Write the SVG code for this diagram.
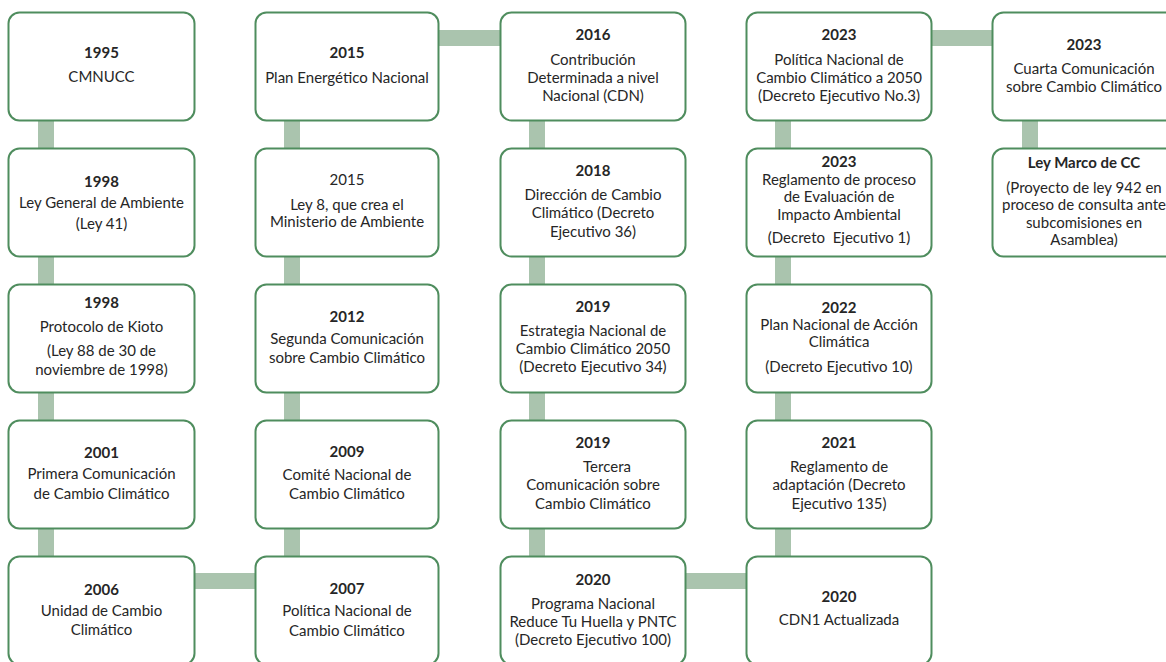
<svg xmlns="http://www.w3.org/2000/svg" width="1166" height="662" viewBox="0 0 1166 662">
<style>
.box{fill:#ffffff;stroke:#4f8d5e;stroke-width:2}
.con{fill:#aac4ae}
text{font-family:Lato,"Liberation Sans",sans-serif;font-size:15px;fill:#262626;text-anchor:middle}
.y{font-weight:bold}
</style>
<rect width="1166" height="662" fill="#ffffff"/>
<g id="connectors">
<rect class="con" x="38" y="120" width="16" height="30"/>
<rect class="con" x="38" y="256" width="16" height="30"/>
<rect class="con" x="38" y="392" width="16" height="30"/>
<rect class="con" x="38" y="528" width="16" height="30"/>
<rect class="con" x="284" y="120" width="16" height="30"/>
<rect class="con" x="284" y="256" width="16" height="30"/>
<rect class="con" x="284" y="392" width="16" height="30"/>
<rect class="con" x="284" y="528" width="16" height="30"/>
<rect class="con" x="529" y="120" width="16" height="30"/>
<rect class="con" x="529" y="256" width="16" height="30"/>
<rect class="con" x="529" y="392" width="16" height="30"/>
<rect class="con" x="529" y="528" width="16" height="30"/>
<rect class="con" x="775" y="120" width="16" height="30"/>
<rect class="con" x="775" y="256" width="16" height="30"/>
<rect class="con" x="775" y="392" width="16" height="30"/>
<rect class="con" x="775" y="528" width="16" height="30"/>
<rect class="con" x="1022" y="120" width="16" height="30"/>
<rect class="con" x="438" y="30" width="64" height="16"/>
<rect class="con" x="930" y="30" width="64" height="16"/>
<rect class="con" x="193" y="573" width="64" height="16"/>
<rect class="con" x="684" y="573" width="64" height="16"/>
</g>
<g id="n1995"><rect class="box" x="8.5" y="12.5" width="186" height="108" rx="11"/>
<text class="y" x="101.5" y="58">1995</text><text x="101.5" y="82">CMNUCC</text></g>
<g id="n1998a"><rect class="box" x="8.5" y="148.5" width="186" height="108" rx="11"/>
<text class="y" x="101.5" y="187">1998</text><text x="101.5" y="208">Ley General de Ambiente</text><text x="101.5" y="229">(Ley 41)</text></g>
<g id="n1998b"><rect class="box" x="8.5" y="284.5" width="186" height="108" rx="11"/>
<text class="y" x="101.5" y="308">1998</text><text x="101.5" y="332">Protocolo de Kioto</text><text x="101.5" y="356">(Ley 88 de 30 de</text><text x="101.5" y="375">noviembre de 1998)</text></g>
<g id="n2001"><rect class="box" x="8.5" y="420.5" width="186" height="108" rx="11"/>
<text class="y" x="101.5" y="458">2001</text><text x="101.5" y="479">Primera Comunicación</text><text x="101.5" y="499">de Cambio Climático</text></g>
<g id="n2006"><rect class="box" x="8.5" y="556.5" width="186" height="108" rx="11"/>
<text class="y" x="101.5" y="595">2006</text><text x="101.5" y="616">Unidad de Cambio</text><text x="101.5" y="635">Climático</text></g>

<g id="n2015a"><rect class="box" x="255.5" y="12.5" width="183" height="108" rx="11"/>
<text class="y" x="347" y="58">2015</text><text x="347" y="83">Plan Energético Nacional</text></g>
<g id="n2015b"><rect class="box" x="255.5" y="148.5" width="183" height="108" rx="11"/>
<text x="347" y="185">2015</text><text x="347" y="210">Ley 8, que crea el</text><text x="347" y="227">Ministerio de Ambiente</text></g>
<g id="n2012"><rect class="box" x="255.5" y="284.5" width="183" height="108" rx="11"/>
<text class="y" x="347" y="322">2012</text><text x="347" y="344">Segunda Comunicación</text><text x="347" y="363">sobre Cambio Climático</text></g>
<g id="n2009"><rect class="box" x="255.5" y="420.5" width="183" height="108" rx="11"/>
<text class="y" x="347" y="457">2009</text><text x="347" y="480">Comité Nacional de</text><text x="347" y="499">Cambio Climático</text></g>
<g id="n2007"><rect class="box" x="255.5" y="556.5" width="183" height="108" rx="11"/>
<text class="y" x="347" y="594">2007</text><text x="347" y="616">Política Nacional de</text><text x="347" y="636">Cambio Climático</text></g>

<g id="n2016"><rect class="box" x="500.5" y="12.5" width="185" height="108" rx="11"/>
<text class="y" x="593" y="40">2016</text><text x="593" y="65">Contribución</text><text x="593" y="83">Determinada a nivel</text><text x="593" y="101">Nacional (CDN)</text></g>
<g id="n2018"><rect class="box" x="500.5" y="148.5" width="185" height="108" rx="11"/>
<text class="y" x="593" y="176">2018</text><text x="593" y="200">Dirección de Cambio</text><text x="593" y="218">Climático (Decreto</text><text x="593" y="237">Ejecutivo 36)</text></g>
<g id="n2019a"><rect class="box" x="500.5" y="284.5" width="185" height="108" rx="11"/>
<text class="y" x="593" y="312">2019</text><text x="593" y="336">Estrategia Nacional de</text><text x="593" y="354">Cambio Climático 2050</text><text x="593" y="372">(Decreto Ejecutivo 34)</text></g>
<g id="n2019b"><rect class="box" x="500.5" y="420.5" width="185" height="108" rx="11"/>
<text class="y" x="593" y="448">2019</text><text x="607" y="472">Tercera</text><text x="593" y="490">Comunicación sobre</text><text x="593" y="509">Cambio Climático</text></g>
<g id="n2020a"><rect class="box" x="500.5" y="556.5" width="185" height="108" rx="11"/>
<text class="y" x="593" y="585">2020</text><text x="593" y="609">Programa Nacional</text><text x="593" y="627">Reduce Tu Huella y PNTC</text><text x="593" y="645">(Decreto Ejecutivo 100)</text></g>

<g id="n2023a"><rect class="box" x="746.5" y="12.5" width="185" height="108" rx="11"/>
<text class="y" x="839" y="40">2023</text><text x="839" y="65">Política Nacional de</text><text x="839" y="83">Cambio Climático a 2050</text><text x="839" y="101">(Decreto Ejecutivo No.3)</text></g>
<g id="n2023b"><rect class="box" x="746.5" y="148.5" width="185" height="108" rx="11"/>
<text class="y" x="839" y="167">2023</text><text x="839" y="185">Reglamento de proceso</text><text x="839" y="202">de Evaluación de</text><text x="839" y="220">Impacto Ambiental</text><text x="839" y="243" xml:space="preserve">(Decreto  Ejecutivo 1)</text></g>
<g id="n2022"><rect class="box" x="746.5" y="284.5" width="185" height="108" rx="11"/>
<text class="y" x="839" y="313">2022</text><text x="839" y="330">Plan Nacional de Acción</text><text x="839" y="347">Climática</text><text x="839" y="372">(Decreto Ejecutivo 10)</text></g>
<g id="n2021"><rect class="box" x="746.5" y="420.5" width="185" height="108" rx="11"/>
<text class="y" x="839" y="448">2021</text><text x="839" y="472">Reglamento de</text><text x="839" y="490">adaptación (Decreto</text><text x="839" y="509">Ejecutivo 135)</text></g>
<g id="n2020b"><rect class="box" x="746.5" y="556.5" width="185" height="108" rx="11"/>
<text class="y" x="839" y="602">2020</text><text x="839" y="625">CDN1 Actualizada</text></g>

<g id="n2023c"><rect class="box" x="992.5" y="12.5" width="184" height="108" rx="11"/>
<text class="y" x="1084" y="50">2023</text><text x="1084" y="74">Cuarta Comunicación</text><text x="1084" y="92">sobre Cambio Climático</text></g>
<g id="nLey"><rect class="box" x="992.5" y="148.5" width="184" height="108" rx="11"/>
<text class="y" x="1084" y="168">Ley Marco de CC</text><text x="1084" y="193">(Proyecto de ley 942 en</text><text x="1084" y="210">proceso de consulta ante</text><text x="1084" y="228">subcomisiones en</text><text x="1084" y="245">Asamblea)</text></g>
</svg>
